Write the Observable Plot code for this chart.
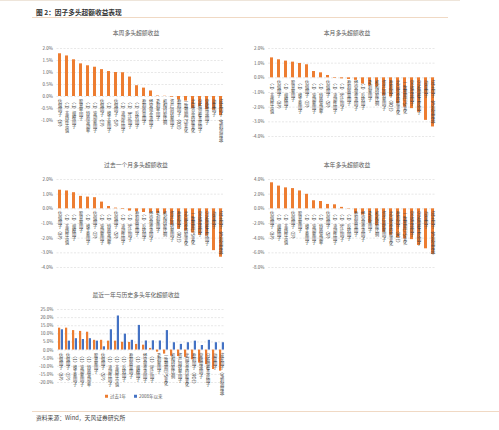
<!DOCTYPE html>
<html><head><meta charset="utf-8">
<script src="https://cdn.jsdelivr.net/npm/d3@7"></script>
<script src="https://cdn.jsdelivr.net/npm/@observablehq/plot@0.6"></script>
<style>
body{margin:0;background:#fff;font-family:"Noto Sans CJK SC","Noto Sans",sans-serif;}
#page{position:relative;width:499px;height:430px;overflow:hidden;background:#fff;}
.ttl{position:absolute;transform:translate(-50%,-50%);font-size:5.8px;color:#595959;white-space:nowrap;line-height:1;}
.hd{position:absolute;white-space:nowrap;line-height:1;}
.rule{position:absolute;height:0;border-top:1px solid #f0d9c4;}
.lg{position:absolute;font-size:4.5px;color:#595959;white-space:nowrap;line-height:1;transform:translateY(-50%);}
.sq{display:inline-block;width:3px;height:3px;margin-right:2px;vertical-align:middle;}
#page svg{position:absolute;overflow:visible;}
</style></head><body><div id="page"></div>
<script>
// ---------- data ----------
const weekLabels = ["估值因子（BP）","（-1）非线性市值","（-1）规模因子","股息率因子","（-1）特质波动率","（-1）波动率因子","估值因子（EP）","（-1）换手率因子","估值因子（SP）","（-1）流动性因子","（-1）Beta因子","（-1）反转因子","盈利质量因子","经营现金流因子","毛利率因子","机构持股比例","资产周转率因子","盈利因子（ROE）","一致预期EPS变化","北向资金持股变化","分析师覆盖度因子","营收增速因子","动量因子","成长因子（净利润增速）"];
const weekValues = [1.78,1.69,1.53,1.36,1.28,1.22,1.12,1.04,1.0,0.99,0.81,0.45,0.35,0.23,0.02,0.01,-0.03,-0.14,-0.19,-0.5,-0.42,-0.55,-0.57,-0.8];

const monthLabels = ["（-1）非线性市值","估值因子（BP）","（-1）规模因子","股息率因子","（-1）换手率因子","估值因子（EP）","（-1）波动率因子","（-1）特质波动率","估值因子（SP）","（-1）流动性因子","（-1）Beta因子","盈利质量因子","经营现金流因子","（-1）反转因子","毛利率因子","机构持股比例","资产周转率因子","盈利因子（ROE）","北向资金持股变化","一致预期EPS变化","营收增速因子","分析师覆盖度因子","动量因子","成长因子（净利润增速）"];
const monthValues = [1.36,1.23,1.14,1.07,0.98,0.89,0.43,0.34,0.16,-0.04,-0.07,-0.11,-0.17,-0.42,-0.55,-0.62,-1.22,-1.3,-1.75,-2.0,-2.1,-2.35,-2.9,-3.35];

const pastMonthLabels = ["估值因子（BP）","（-1）非线性市值","（-1）规模因子","股息率因子","（-1）换手率因子","估值因子（EP）","（-1）波动率因子","（-1）特质波动率","估值因子（SP）","（-1）流动性因子","（-1）Beta因子","盈利质量因子","（-1）反转因子","经营现金流因子","毛利率因子","机构持股比例","资产周转率因子","盈利因子（ROE）","北向资金持股变化","一致预期EPS变化","营收增速因子","分析师覆盖度因子","动量因子","成长因子（净利润增速）"];
const pastMonthValues = [1.27,1.22,1.1,0.85,0.8,0.76,0.46,0.16,0.05,-0.04,-0.15,-0.2,-0.25,-0.28,-0.32,-0.35,-1.1,-1.4,-1.5,-1.65,-1.8,-1.86,-2.85,-3.3];

const ytdLabels = ["估值因子（BP）","（-1）规模因子","（-1）非线性市值","估值因子（EP）","股息率因子","（-1）换手率因子","（-1）波动率因子","（-1）特质波动率","估值因子（SP）","（-1）流动性因子","（-1）Beta因子","（-1）反转因子","盈利质量因子","经营现金流因子","毛利率因子","机构持股比例","资产周转率因子","北向资金持股变化","盈利因子（ROE）","一致预期EPS变化","营收增速因子","分析师覆盖度因子","动量因子","成长因子（净利润增速）"];
const ytdValues = [3.55,3.1,2.86,2.76,2.44,1.98,1.1,1.0,0.6,0.55,0.2,-0.05,-0.65,-0.85,-1.95,-2.3,-3.2,-3.6,-3.95,-4.1,-4.2,-5.0,-5.45,-6.2];

const annLabels = ["估值因子（BP）","估值因子（EP）","（-1）换手率因子","（-1）波动率因子","（-1）特质波动率","股息率因子","估值因子（SP）","（-1）流动性因子","（-1）非线性市值","（-1）反转因子","盈利质量因子","（-1）规模因子","经营现金流因子","（-1）Beta因子","毛利率因子","一致预期EPS变化","机构持股比例","资产周转率因子","北向资金持股变化","盈利因子（ROE）","营收增速因子","分析师覆盖度因子","动量因子","成长因子（净利润增速）"];
const lastYearValues = [13.5,13.5,12.0,11.5,11.0,6.0,6.0,5.5,5.5,4.8,4.7,3.5,3.0,1.0,-1.3,-2.5,-3.8,-4.0,-4.5,-6.0,-8.0,-9.0,-12.0,-13.0];
const since2008Values = [12.5,5.5,7.0,6.5,7.0,5.5,2.0,12.5,21.0,9.8,6.0,15.2,5.6,5.7,5.6,12.0,4.5,3.5,4.5,5.5,2.8,6.0,4.5,4.5];
const seriesNames = ["过去1年","2008年以来"];

const pctTicks1 = [-1,-0.5,0,0.5,1,1.5,2];
const pctTicks2 = [-4,-3,-2,-1,0,1,2];
const pctTicks4 = [-8,-6,-4,-2,0,2,4];
const pctTicks5 = [-20,-15,-10,-5,0,5,10,15,20,25];

// ---------- styles ----------
const ORANGE = "#ED7D31", BLUE = "#4472C4", GRID = "#d9d9d9", TXT = "#595959", LBL = "#404040";
const FONT = '"Noto Sans CJK SC","Noto Sans",sans-serif';
const page = document.getElementById("page");

function verticalLabels(svg) {
  svg.querySelectorAll('g[aria-label="text"] text').forEach(t => {
    t.style.writingMode = "vertical-rl";
    t.removeAttribute("dy");
  });
}

function place(svg, left, top) {
  svg.style.left = left + "px";
  svg.style.top = top + "px";
  page.appendChild(svg);
}

function barPanel({labels, values, yDomain, ticks, left, top, width, height, mL, mR, mT, mB}) {
  const data = labels.map((l, i) => ({label: l, value: values[i]}));
  const svg = Plot.plot({
    width, height, marginLeft: mL, marginRight: mR, marginTop: mT, marginBottom: mB,
    style: {fontFamily: FONT, color: TXT, background: "transparent", overflow: "visible"},
    x: {domain: labels, axis: null, paddingInner: 0.55, paddingOuter: 0.275},
    y: {domain: yDomain},
    marks: [
      Plot.gridY(ticks, {stroke: GRID, strokeOpacity: 1, strokeDasharray: "2,1.5", strokeWidth: 0.6}),
      Plot.barY(data, {x: "label", y: "value", fill: ORANGE}),
      Plot.axisY(ticks, {label: null, tickSize: 0, tickPadding: 4, fontSize: 4.5, tickFormat: d => d.toFixed(1) + "%"}),
      Plot.text(data, {x: "label", y: 0, text: "label", textAnchor: "start", fontSize: 4.2, fill: LBL, dy: 1.5})
    ]
  });
  verticalLabels(svg);
  place(svg, left, top);
}

// chart 1: 本周
barPanel({labels: weekLabels, values: weekValues, yDomain: [-1, 2], ticks: pctTicks1,
  left: 0, top: 40, width: 250, height: 110, mL: 56.5, mR: 25.5, mT: 8, mB: 30});
// chart 2: 本月
barPanel({labels: monthLabels, values: monthValues, yDomain: [-4, 2], ticks: pctTicks2,
  left: 250, top: 40, width: 249, height: 110, mL: 18, mR: 63, mT: 8, mB: 14});
// chart 3: 过去一个月
barPanel({labels: pastMonthLabels, values: pastMonthValues, yDomain: [-4, 2], ticks: pctTicks2,
  left: 0, top: 170, width: 250, height: 115, mL: 56.5, mR: 25.5, mT: 9, mB: 18});
// chart 4: 本年
barPanel({labels: ytdLabels, values: ytdValues, yDomain: [-8, 4], ticks: pctTicks4,
  left: 250, top: 170, width: 249, height: 115, mL: 18, mR: 63, mT: 9, mB: 18});

// chart 5: 年化
{
  const rows = annLabels.map((l, i) => ({label: l, a: lastYearValues[i], b: since2008Values[i]}));
  const svg = Plot.plot({
    width: 250, height: 88, marginLeft: 57, marginRight: 25, marginTop: 7, marginBottom: 8,
    style: {fontFamily: FONT, color: TXT, background: "transparent", overflow: "visible"},
    x: {domain: annLabels, axis: null, paddingInner: 0.25, paddingOuter: 0.125},
    y: {domain: [-20, 25]},
    marks: [
      Plot.gridY(pctTicks5, {stroke: GRID, strokeOpacity: 1, strokeDasharray: "2,1.5", strokeWidth: 0.6}),
      Plot.barY(rows, {x: "label", y: "a", fill: ORANGE, insetRight: 2.8}),
      Plot.barY(rows, {x: "label", y: "b", fill: BLUE, insetLeft: 2.8}),
      Plot.axisY(pctTicks5, {label: null, tickSize: 0, tickPadding: 4, fontSize: 4.5, tickFormat: d => d.toFixed(1) + "%"}),
      Plot.text(rows, {x: "label", y: 0, text: "label", textAnchor: "start", fontSize: 4.2, fill: LBL, dy: 1.5})
    ]
  });
  verticalLabels(svg);
  place(svg, 0, 302);
}

// ---------- header, titles, legend, source ----------
function addEl(cls, html, css) {
  const d = document.createElement("div");
  d.className = cls;
  d.innerHTML = html;
  Object.assign(d.style, css);
  page.appendChild(d);
  return d;
}
addEl("rule", "", {left: "0px", top: "0px", width: "460px", borderTopColor: "#eee5da"});
addEl("hd", "图 2：因子多头超额收益表现", {left: "36px", top: "8.5px", fontSize: "6.7px", fontWeight: "bold", color: "#333"});
addEl("rule", "", {left: "32px", top: "17px", width: "416px"});

const chartTitles = [
  ["本周多头超额收益", 136, 33], ["本月多头超额收益", 347, 33],
  ["过去一个月多头超额收益", 136, 165], ["本年多头超额收益", 347, 165],
  ["最近一年与历史多头年化超额收益", 136, 295]
];
chartTitles.forEach(([t, x, y]) => addEl("ttl", t, {left: x + "px", top: y + "px"}));

addEl("lg", `<span class="sq" style="background:${ORANGE}"></span>${seriesNames[0]}`, {left: "105px", top: "396px"});
addEl("lg", `<span class="sq" style="background:${BLUE}"></span>${seriesNames[1]}`, {left: "134px", top: "396px"});

addEl("rule", "", {left: "32px", top: "410.5px", width: "467px"});
addEl("hd", "资料来源：Wind，天风证券研究所", {left: "36px", top: "415px", fontSize: "5.8px", color: "#444"});
</script></body></html>
